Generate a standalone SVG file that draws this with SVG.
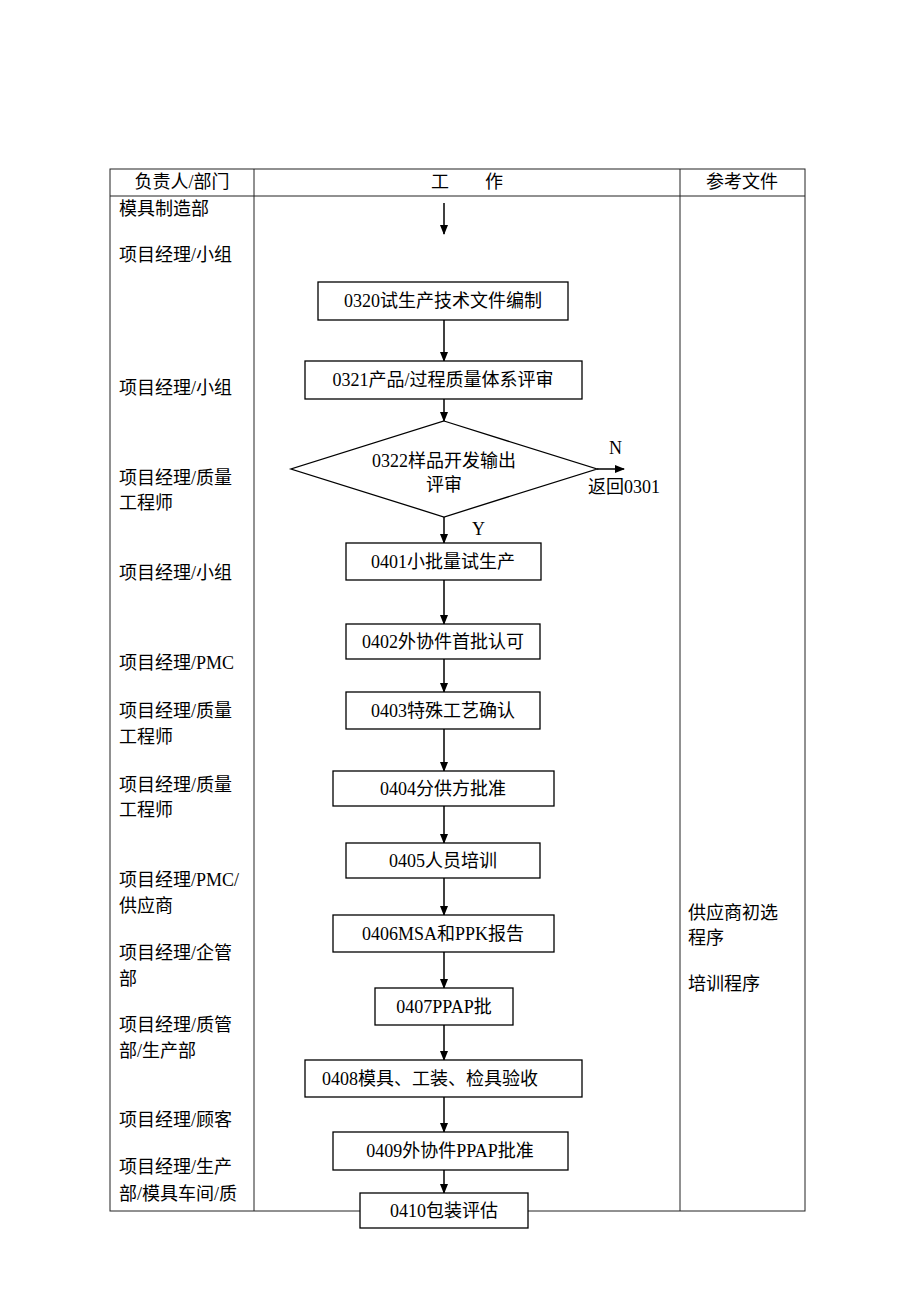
<svg xmlns="http://www.w3.org/2000/svg" width="920" height="1302" viewBox="0 0 920 1302">
<style>
text{font-family:"Liberation Serif","Noto Sans CJK SC",serif;font-size:18px;fill:#000}
.c{text-anchor:middle}
.tl{stroke:#222;stroke-width:1;fill:none}
.box{fill:#fff;stroke:#000;stroke-width:1.3}
.ar{stroke:#000;stroke-width:1.5;fill:none;marker-end:url(#ah)}
</style>
<defs>
<marker id="ah" markerWidth="10" markerHeight="10" refX="9" refY="5" orient="auto" markerUnits="userSpaceOnUse">
<path d="M0,1 L10,5 L0,9 Z" fill="#000"/>
</marker>
</defs>
<rect width="920" height="1302" fill="#fff"/>
<g id="table">
<rect class="tl" x="110" y="169" width="695" height="1042"/>
<line class="tl" x1="110" y1="196" x2="805" y2="196"/>
<line class="tl" x1="254" y1="169" x2="254" y2="1211"/>
<line class="tl" x1="680" y1="169" x2="680" y2="1211"/>
<text class="c" x="182" y="188">负责人/部门</text>
<text class="c" x="467" y="188">工　　作</text>
<text class="c" x="742" y="188">参考文件</text>
</g>
<g id="roles">
<text x="119" y="215">模具制造部</text>
<text x="119" y="261">项目经理/小组</text>
<text x="119" y="394">项目经理/小组</text>
<text x="119" y="484">项目经理/质量</text>
<text x="119" y="509">工程师</text>
<text x="119" y="579">项目经理/小组</text>
<text x="119" y="669">项目经理/PMC</text>
<text x="119" y="717">项目经理/质量</text>
<text x="119" y="743">工程师</text>
<text x="119" y="791">项目经理/质量</text>
<text x="119" y="816">工程师</text>
<text x="119" y="886">项目经理/PMC/</text>
<text x="119" y="912">供应商</text>
<text x="119" y="959">项目经理/企管</text>
<text x="119" y="985">部</text>
<text x="119" y="1031">项目经理/质管</text>
<text x="119" y="1057">部/生产部</text>
<text x="119" y="1126">项目经理/顾客</text>
<text x="119" y="1173">项目经理/生产</text>
<text x="119" y="1200">部/模具车间/质</text>
</g>
<g id="refs">
<text x="688" y="919">供应商初选</text>
<text x="688" y="944">程序</text>
<text x="688" y="990">培训程序</text>
</g>
<g id="connectors">
<line class="ar" x1="444" y1="203" x2="444" y2="234"/>
<line class="ar" x1="444" y1="320" x2="444" y2="361"/>
<line class="ar" x1="444" y1="399" x2="444" y2="421"/>
<line class="ar" x1="444" y1="517" x2="444" y2="543"/>
<line class="ar" x1="444" y1="580" x2="444" y2="624"/>
<line class="ar" x1="444" y1="659" x2="444" y2="692"/>
<line class="ar" x1="444" y1="729" x2="444" y2="771"/>
<line class="ar" x1="444" y1="806" x2="444" y2="843"/>
<line class="ar" x1="444" y1="878" x2="444" y2="915"/>
<line class="ar" x1="444" y1="952" x2="444" y2="988"/>
<line class="ar" x1="444" y1="1025" x2="444" y2="1060"/>
<line class="ar" x1="444" y1="1097" x2="444" y2="1132"/>
<line class="ar" x1="444" y1="1170" x2="444" y2="1193"/>
<line class="ar" x1="597" y1="469" x2="624" y2="469"/>
<text x="609" y="454">N</text>
<text x="588" y="493">返回0301</text>
<text x="472" y="535">Y</text>
</g>
<g id="n0320"><rect class="box" x="318" y="282" width="250" height="38"/><text class="c" x="443" y="307">0320试生产技术文件编制</text></g>
<g id="n0321"><rect class="box" x="305" y="361" width="277" height="38"/><text class="c" x="443" y="386">0321产品/过程质量体系评审</text></g>
<g id="n0322"><polygon class="box" points="444,421 597,469 444,517 291,469"/><text class="c" x="444" y="467">0322样品开发输出</text><text class="c" x="444" y="491">评审</text></g>
<g id="n0401"><rect class="box" x="346" y="543" width="195" height="37"/><text class="c" x="443" y="568">0401小批量试生产</text></g>
<g id="n0402"><rect class="box" x="346" y="624" width="194" height="35"/><text class="c" x="443" y="648">0402外协件首批认可</text></g>
<g id="n0403"><rect class="box" x="346" y="692" width="194" height="37"/><text class="c" x="443" y="717">0403特殊工艺确认</text></g>
<g id="n0404"><rect class="box" x="333" y="771" width="221" height="35"/><text class="c" x="443" y="795">0404分供方批准</text></g>
<g id="n0405"><rect class="box" x="346" y="843" width="194" height="35"/><text class="c" x="443" y="867">0405人员培训</text></g>
<g id="n0406"><rect class="box" x="333" y="915" width="221" height="37"/><text class="c" x="443" y="940">0406MSA和PPK报告</text></g>
<g id="n0407"><rect class="box" x="375" y="988" width="138" height="37"/><text class="c" x="444" y="1013">0407PPAP批</text></g>
<g id="n0408"><rect class="box" x="305" y="1060" width="277" height="37"/><text class="c" x="430" y="1085">0408模具、工装、检具验收</text></g>
<g id="n0409"><rect class="box" x="333" y="1132" width="235" height="38"/><text class="c" x="450" y="1157">0409外协件PPAP批准</text></g>
<g id="n0410"><rect class="box" x="360" y="1193" width="168" height="35"/><text class="c" x="444" y="1217">0410包装评估</text></g>
</svg>
